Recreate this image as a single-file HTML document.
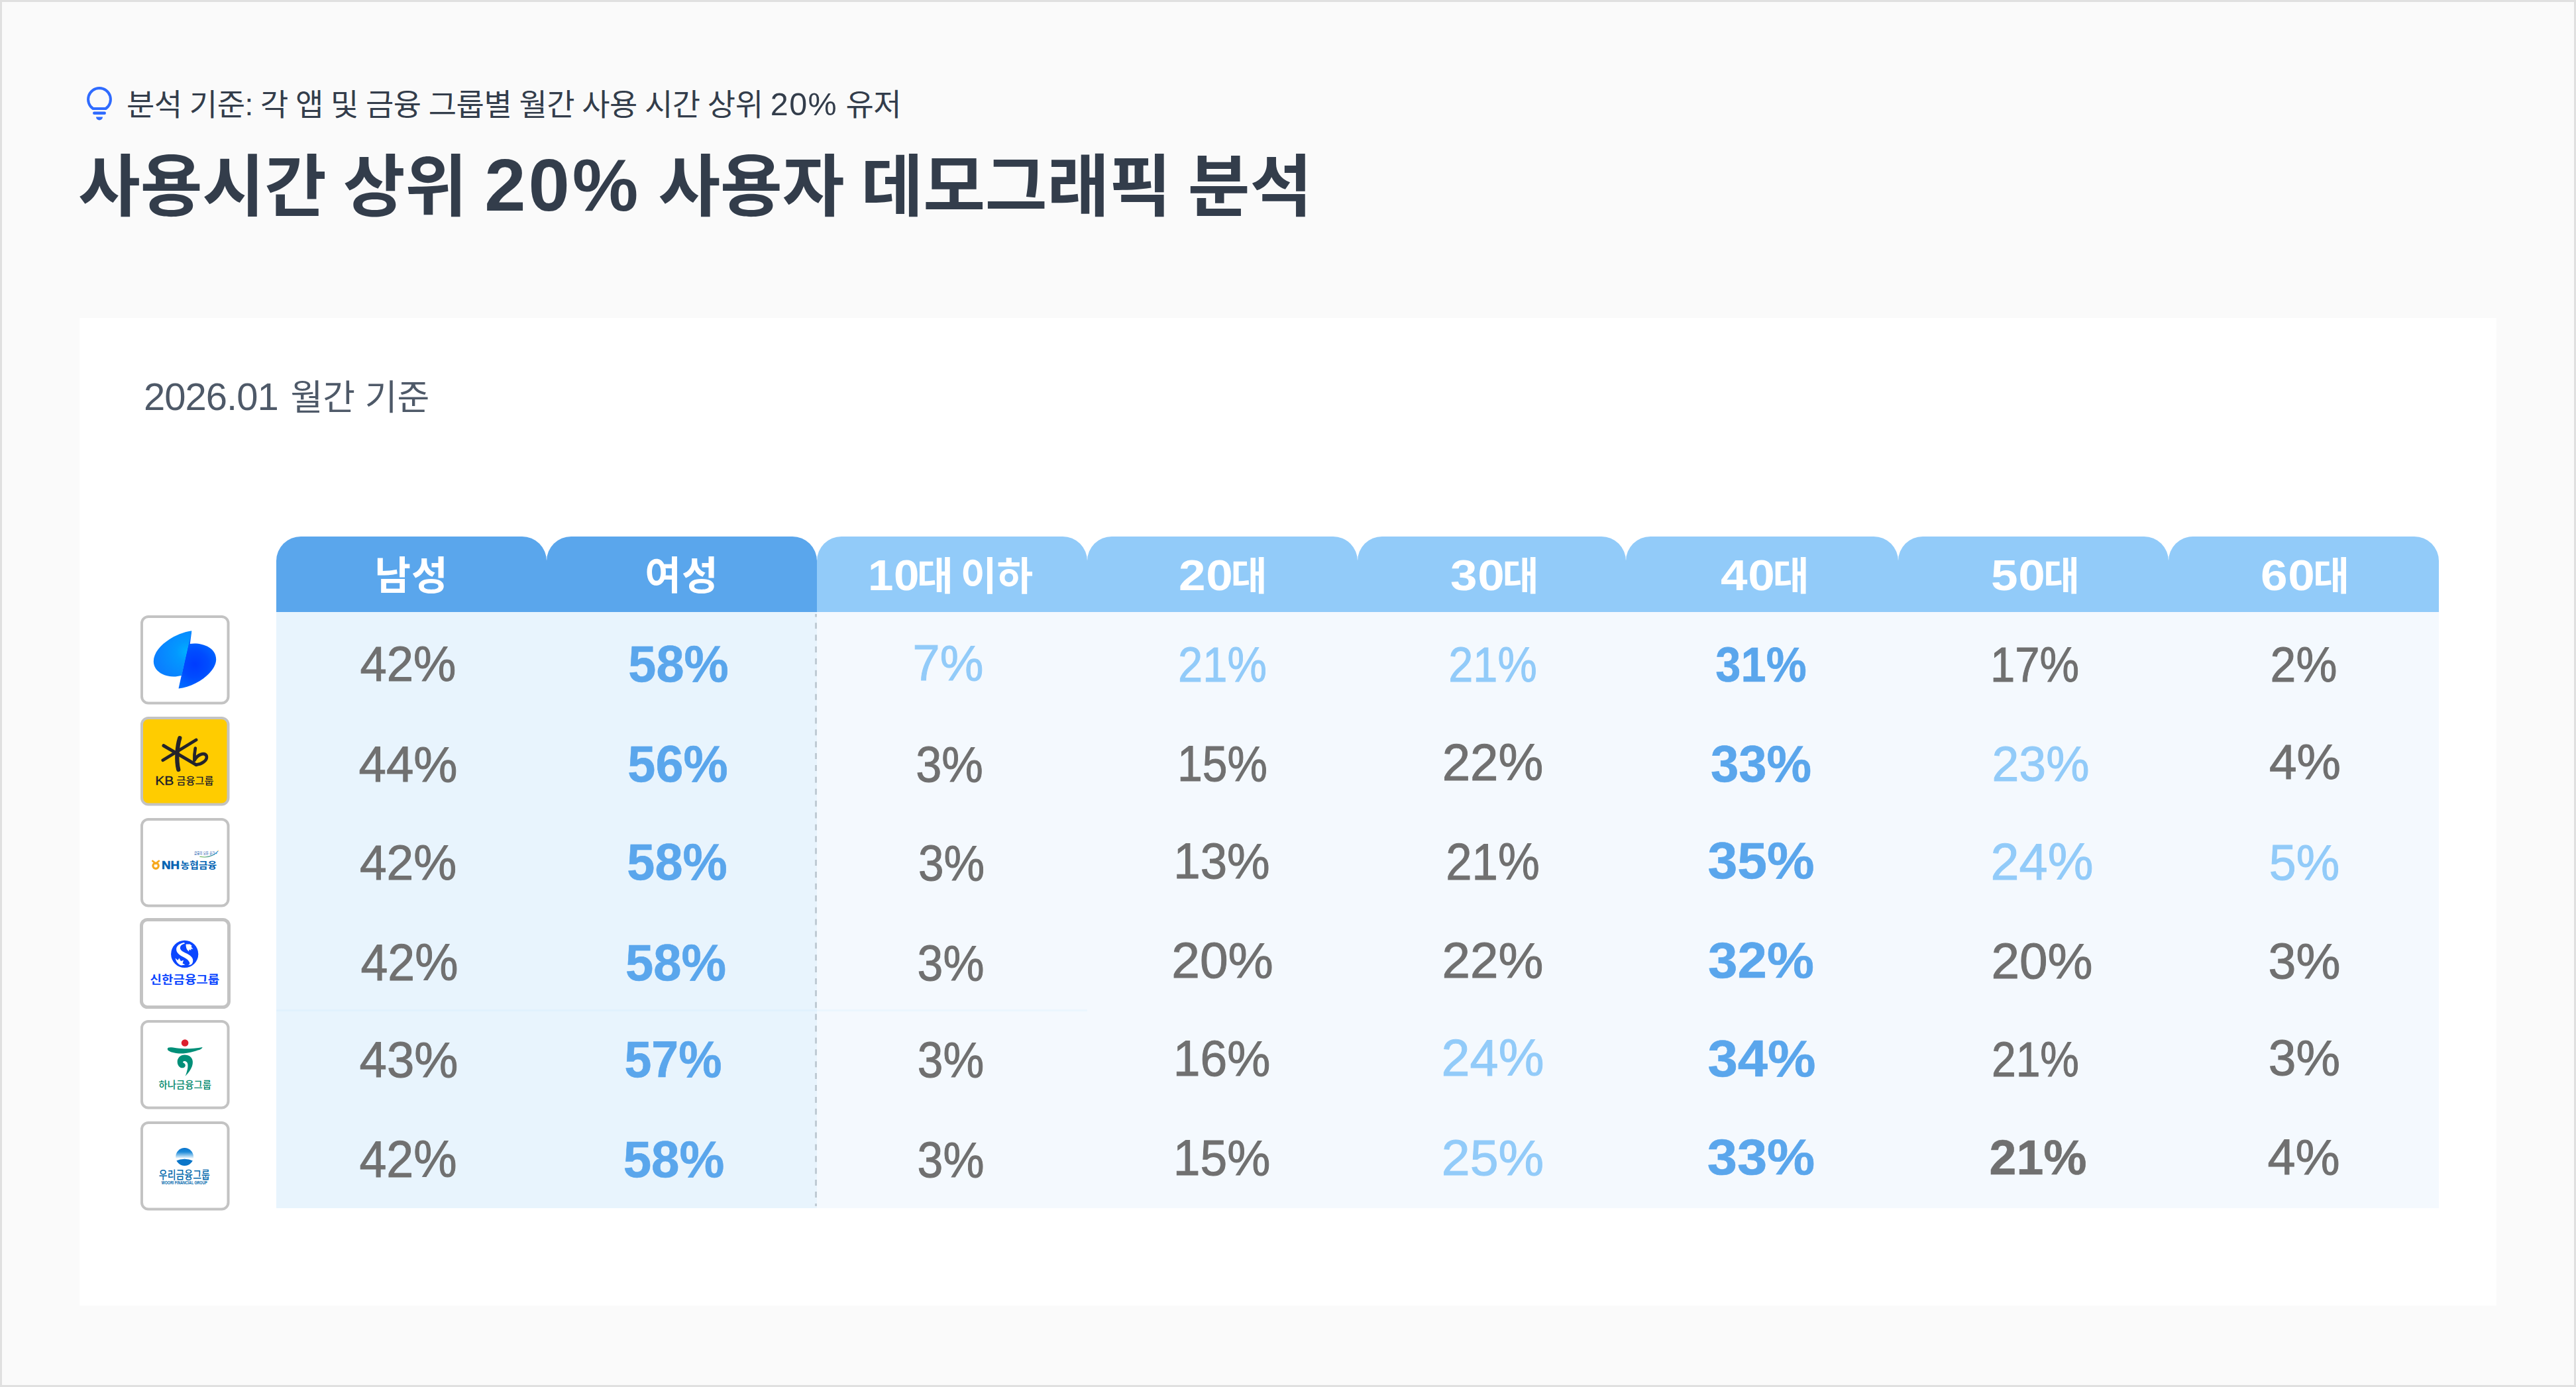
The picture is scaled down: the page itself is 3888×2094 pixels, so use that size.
<!DOCTYPE html>
<html lang="ko"><head><meta charset="utf-8"><title>사용시간 상위 20% 사용자 데모그래픽 분석</title>
<style>
html,body{margin:0;padding:0}
body{width:3888px;height:2094px;position:relative;overflow:hidden;background:#fafafa;font-family:"Liberation Sans","Noto Sans CJK KR",sans-serif}
.frame{position:absolute;left:0;top:0;width:3888px;height:2094px;box-sizing:border-box;border:3px solid #e0e0e0}
.abs{position:absolute;white-space:nowrap}
.sub{left:191px;top:124px;font-size:46px;line-height:66px;color:#333d4b;letter-spacing:-0.5px;word-spacing:-1.1px}
.sub b{font-weight:400;font-size:48.5px;letter-spacing:1.5px;margin-right:1px}
.title{left:118px;top:205px;font-size:102px;line-height:150px;font-weight:700;color:#333d4b;letter-spacing:-0.2px;word-spacing:-3px}
.title b{font-size:112px;letter-spacing:4px;margin:0 1px 0 1px}
.card{position:absolute;left:120px;top:480px;width:3648px;height:1491px;background:#fff}
.date{left:217px;top:560.5px;font-size:53px;line-height:76px;color:#4e5968}
.date b{font-weight:400;font-size:58px;letter-spacing:-1.0px;margin-right:4px}
.band{position:absolute;top:846px;height:78px}
.tab{position:absolute;top:810px;width:408px;height:114px;border-radius:37px 37px 0 0;color:#fff;font-weight:700;font-size:59.5px;letter-spacing:1px;line-height:114px;text-align:center;white-space:nowrap}
.tab b{font-size:64px;letter-spacing:0.5px;display:inline-block;transform:scaleX(1.14);transform-origin:0 50%;margin-right:7px}
.tab.age{letter-spacing:0;word-spacing:-5.5px}
.tab b.one{transform:scaleX(1.08);margin-right:2px}
.tab.age span{top:2px}
.tab span{position:relative;top:3px}
.body1{position:absolute;left:417px;top:924px;width:816px;height:900px;background:#e8f4fd}
.body2{position:absolute;left:1233px;top:924px;width:2448px;height:900px;background:#f4f9fe}
.dash{position:absolute;left:1230px;top:926px;overflow:visible}
.seam{position:absolute;left:417px;top:1524px;width:1224px;height:3px;background:rgba(190,228,255,.15)}
.c{position:absolute;width:400px;text-align:center;white-space:nowrap}
.lg{position:absolute;overflow:visible}
</style></head><body>
<div class="frame"></div>
<svg class="abs" style="left:129px;top:129px" width="42" height="54" viewBox="0 0 42 54"><path d="M21 4a17 17 0 0 1 9.6 31H11.4A17 17 0 0 1 21 4z" fill="none" stroke="#2f6bff" stroke-width="4"/><rect x="11" y="39.5" width="20" height="4.6" rx="2.3" fill="#2f6bff"/><path d="M16 47.5h10a5 5 0 0 1-10 0z" fill="#2f6bff"/></svg>
<div class="abs sub">분석 기준: 각 앱 및 금융 그룹별 월간 사용 시간 상위 <b>20%</b> 유저</div>
<div class="abs title">사용시간 상위 <b>20%</b> 사용자 데모그래픽 분석</div>
<div class="card"></div>
<div class="abs date"><b>2026.01</b> 월간 기준</div>
<div class="band" style="left:417px;width:816px;background:#5aa6ec"></div>
<div class="band" style="left:1233px;width:2448px;background:#92cbf9"></div>
<div class="tab" style="left:417px;width:408px;background:#5aa6ec"><span style="left:0px">남성</span></div><div class="tab" style="left:825px;width:408px;background:#5aa6ec"><span style="left:0px">여성</span></div><div class="tab age" style="left:1233px;width:408px;background:#92cbf9"><span style="left:-2.5px"><b class="one">10</b>대 이하</span></div><div class="tab age" style="left:1641px;width:408px;background:#92cbf9"><span style="left:0.5px"><b>20</b>대</span></div><div class="tab age" style="left:2049px;width:405px;background:#92cbf9"><span style="left:4px"><b>30</b>대</span></div><div class="tab age" style="left:2454px;width:411px;background:#92cbf9"><span style="left:4px"><b>40</b>대</span></div><div class="tab age" style="left:2865px;width:408px;background:#92cbf9"><span style="left:3px"><b>50</b>대</span></div><div class="tab age" style="left:3273px;width:408px;background:#92cbf9"><span style="left:2px"><b>60</b>대</span></div>
<div class="body1"></div><div class="body2"></div>
<div class="seam"></div>
<svg class="dash" width="3" height="896" viewBox="0 0 3 896"><line x1="1.5" y1="0.9" x2="1.5" y2="895" stroke="#bfcbd4" stroke-width="3" stroke-dasharray="9 8.89" stroke-dashoffset="4.5"/></svg>
<div class="c" id="c0_0" style="left:415.8px;top:965.0px;font-size:75.0px;line-height:75.0px;transform:scaleX(0.9649);color:#707070;font-weight:400;-webkit-text-stroke:1.0px #707070">42%</div><div class="c" id="c0_1" style="left:823.5px;top:963.7px;font-size:77.8px;line-height:77.8px;transform:scaleX(0.9716);color:#5aa6ec;font-weight:700;-webkit-text-stroke:0.6px #5aa6ec">58%</div><div class="c" id="c0_2" style="left:1230.5px;top:963.0px;font-size:75.7px;line-height:75.7px;transform:scaleX(0.9759);color:#92cbf9;font-weight:400;-webkit-text-stroke:1.0px #92cbf9">7%</div><div class="c" id="c0_3" style="left:1645.2px;top:966.0px;font-size:75.0px;line-height:75.0px;transform:scaleX(0.8913);color:#92cbf9;font-weight:400;-webkit-text-stroke:1.0px #92cbf9">21%</div><div class="c" id="c0_4" style="left:2053.4px;top:966.1px;font-size:74.9px;line-height:74.9px;transform:scaleX(0.8906);color:#92cbf9;font-weight:400;-webkit-text-stroke:1.0px #92cbf9">21%</div><div class="c" id="c0_5" style="left:2458.4px;top:966.1px;font-size:74.9px;line-height:74.9px;transform:scaleX(0.9163);color:#5aa6ec;font-weight:700;-webkit-text-stroke:0.6px #5aa6ec">31%</div><div class="c" id="c0_6" style="left:2871.0px;top:966.1px;font-size:74.9px;line-height:74.9px;transform:scaleX(0.8941);color:#707070;font-weight:400;-webkit-text-stroke:1.0px #707070">17%</div><div class="c" id="c0_7" style="left:3277.1px;top:966.1px;font-size:74.9px;line-height:74.9px;transform:scaleX(0.9309);color:#707070;font-weight:400;-webkit-text-stroke:1.0px #707070">2%</div><div class="c" id="c1_0" style="left:416.0px;top:1115.5px;font-size:75.7px;line-height:75.7px;transform:scaleX(0.9837);color:#707070;font-weight:400;-webkit-text-stroke:1.0px #707070">44%</div><div class="c" id="c1_1" style="left:823.0px;top:1114.8px;font-size:77.1px;line-height:77.1px;transform:scaleX(0.9806);color:#5aa6ec;font-weight:700;-webkit-text-stroke:0.6px #5aa6ec">56%</div><div class="c" id="c1_2" style="left:1232.8px;top:1116.2px;font-size:76.6px;line-height:76.6px;transform:scaleX(0.9183);color:#707070;font-weight:400;-webkit-text-stroke:1.0px #707070">3%</div><div class="c" id="c1_3" style="left:1644.5px;top:1115.4px;font-size:75.7px;line-height:75.7px;transform:scaleX(0.8979);color:#707070;font-weight:400;-webkit-text-stroke:1.0px #707070">15%</div><div class="c" id="c1_4" style="left:2053.2px;top:1112.6px;font-size:77.2px;line-height:77.2px;transform:scaleX(0.9885);color:#707070;font-weight:400;-webkit-text-stroke:1.0px #707070">22%</div><div class="c" id="c1_5" style="left:2457.9px;top:1114.5px;font-size:77.2px;line-height:77.2px;transform:scaleX(0.9846);color:#5aa6ec;font-weight:700;-webkit-text-stroke:0.6px #5aa6ec">33%</div><div class="c" id="c1_6" style="left:2880.2px;top:1116.4px;font-size:74.9px;line-height:74.9px;transform:scaleX(0.9800);color:#92cbf9;font-weight:400;-webkit-text-stroke:1.0px #92cbf9">23%</div><div class="c" id="c1_7" style="left:3278.8px;top:1112.9px;font-size:74.9px;line-height:74.9px;transform:scaleX(0.9979);color:#707070;font-weight:400;-webkit-text-stroke:1.0px #707070">4%</div><div class="c" id="c2_0" style="left:415.8px;top:1266.1px;font-size:74.3px;line-height:74.3px;transform:scaleX(0.9833);color:#707070;font-weight:400;-webkit-text-stroke:1.0px #707070">42%</div><div class="c" id="c2_1" style="left:821.5px;top:1263.2px;font-size:77.8px;line-height:77.8px;transform:scaleX(0.9719);color:#5aa6ec;font-weight:700;-webkit-text-stroke:0.6px #5aa6ec">58%</div><div class="c" id="c2_2" style="left:1235.5px;top:1265.2px;font-size:76.6px;line-height:76.6px;transform:scaleX(0.9046);color:#707070;font-weight:400;-webkit-text-stroke:1.0px #707070">3%</div><div class="c" id="c2_3" style="left:1643.5px;top:1262.3px;font-size:76.4px;line-height:76.4px;transform:scaleX(0.9514);color:#707070;font-weight:400;-webkit-text-stroke:1.0px #707070">13%</div><div class="c" id="c2_4" style="left:2053.4px;top:1262.6px;font-size:77.2px;line-height:77.2px;transform:scaleX(0.9163);color:#707070;font-weight:400;-webkit-text-stroke:1.0px #707070">21%</div><div class="c" id="c2_5" style="left:2458.4px;top:1259.9px;font-size:78.0px;line-height:78.0px;transform:scaleX(1.0318);color:#5aa6ec;font-weight:700;-webkit-text-stroke:0.6px #5aa6ec">35%</div><div class="c" id="c2_6" style="left:2881.8px;top:1262.6px;font-size:77.2px;line-height:77.2px;transform:scaleX(1.0023);color:#92cbf9;font-weight:400;-webkit-text-stroke:1.0px #92cbf9">24%</div><div class="c" id="c2_7" style="left:3277.6px;top:1263.7px;font-size:75.9px;line-height:75.9px;transform:scaleX(0.9707);color:#92cbf9;font-weight:400;-webkit-text-stroke:1.0px #92cbf9">5%</div><div class="c" id="c3_0" style="left:417.6px;top:1415.2px;font-size:77.2px;line-height:77.2px;transform:scaleX(0.9516);color:#707070;font-weight:400;-webkit-text-stroke:1.0px #707070">42%</div><div class="c" id="c3_1" style="left:819.8px;top:1415.2px;font-size:77.2px;line-height:77.2px;transform:scaleX(0.9846);color:#5aa6ec;font-weight:700;-webkit-text-stroke:0.6px #5aa6ec">58%</div><div class="c" id="c3_2" style="left:1235.0px;top:1416.3px;font-size:75.9px;line-height:75.9px;transform:scaleX(0.9188);color:#707070;font-weight:400;-webkit-text-stroke:1.0px #707070">3%</div><div class="c" id="c3_3" style="left:1645.4px;top:1411.8px;font-size:76.3px;line-height:76.3px;transform:scaleX(1.0057);color:#707070;font-weight:400;-webkit-text-stroke:1.0px #707070">20%</div><div class="c" id="c3_4" style="left:2052.6px;top:1411.8px;font-size:76.2px;line-height:76.2px;transform:scaleX(1.0024);color:#707070;font-weight:400;-webkit-text-stroke:1.0px #707070">22%</div><div class="c" id="c3_5" style="left:2457.9px;top:1411.8px;font-size:76.2px;line-height:76.2px;transform:scaleX(1.0483);color:#5aa6ec;font-weight:700;-webkit-text-stroke:0.6px #5aa6ec">32%</div><div class="c" id="c3_6" style="left:2881.5px;top:1412.8px;font-size:75.8px;line-height:75.8px;transform:scaleX(1.0084);color:#707070;font-weight:400;-webkit-text-stroke:1.0px #707070">20%</div><div class="c" id="c3_7" style="left:3278.0px;top:1412.9px;font-size:75.7px;line-height:75.7px;transform:scaleX(0.9952);color:#707070;font-weight:400;-webkit-text-stroke:1.0px #707070">3%</div><div class="c" id="c4_0" style="left:416.5px;top:1561.8px;font-size:76.3px;line-height:76.3px;transform:scaleX(0.9749);color:#707070;font-weight:400;-webkit-text-stroke:1.0px #707070">43%</div><div class="c" id="c4_1" style="left:815.9px;top:1560.6px;font-size:77.7px;line-height:77.7px;transform:scaleX(0.9452);color:#5aa6ec;font-weight:700;-webkit-text-stroke:0.6px #5aa6ec">57%</div><div class="c" id="c4_2" style="left:1235.0px;top:1561.8px;font-size:76.3px;line-height:76.3px;transform:scaleX(0.9100);color:#707070;font-weight:400;-webkit-text-stroke:1.0px #707070">3%</div><div class="c" id="c4_3" style="left:1644.0px;top:1559.6px;font-size:75.9px;line-height:75.9px;transform:scaleX(0.9652);color:#707070;font-weight:400;-webkit-text-stroke:1.0px #707070">16%</div><div class="c" id="c4_4" style="left:2052.7px;top:1558.5px;font-size:77.2px;line-height:77.2px;transform:scaleX(1.0023);color:#92cbf9;font-weight:400;-webkit-text-stroke:1.0px #92cbf9">24%</div><div class="c" id="c4_5" style="left:2458.6px;top:1558.5px;font-size:78.0px;line-height:78.0px;transform:scaleX(1.0447);color:#5aa6ec;font-weight:700;-webkit-text-stroke:0.6px #5aa6ec">34%</div><div class="c" id="c4_6" style="left:2872.2px;top:1562.0px;font-size:75.0px;line-height:75.0px;transform:scaleX(0.8800);color:#707070;font-weight:400;-webkit-text-stroke:1.0px #707070">21%</div><div class="c" id="c4_7" style="left:3277.5px;top:1558.8px;font-size:76.4px;line-height:76.4px;transform:scaleX(0.9807);color:#707070;font-weight:400;-webkit-text-stroke:1.0px #707070">3%</div><div class="c" id="c5_0" style="left:416.0px;top:1712.1px;font-size:77.2px;line-height:77.2px;transform:scaleX(0.9520);color:#707070;font-weight:400;-webkit-text-stroke:1.0px #707070">42%</div><div class="c" id="c5_1" style="left:817.0px;top:1712.1px;font-size:77.2px;line-height:77.2px;transform:scaleX(0.9884);color:#5aa6ec;font-weight:700;-webkit-text-stroke:0.6px #5aa6ec">58%</div><div class="c" id="c5_2" style="left:1235.0px;top:1713.1px;font-size:75.9px;line-height:75.9px;transform:scaleX(0.9188);color:#707070;font-weight:400;-webkit-text-stroke:1.0px #707070">3%</div><div class="c" id="c5_3" style="left:1644.0px;top:1709.6px;font-size:75.9px;line-height:75.9px;transform:scaleX(0.9652);color:#707070;font-weight:400;-webkit-text-stroke:1.0px #707070">15%</div><div class="c" id="c5_4" style="left:2052.7px;top:1709.6px;font-size:75.9px;line-height:75.9px;transform:scaleX(1.0169);color:#92cbf9;font-weight:400;-webkit-text-stroke:1.0px #92cbf9">25%</div><div class="c" id="c5_5" style="left:2457.8px;top:1708.7px;font-size:76.2px;line-height:76.2px;transform:scaleX(1.0658);color:#5aa6ec;font-weight:700;-webkit-text-stroke:0.6px #5aa6ec">33%</div><div class="c" id="c5_6" style="left:2875.5px;top:1710.0px;font-size:75.0px;line-height:75.0px;transform:scaleX(0.9778);color:#707070;font-weight:700;-webkit-text-stroke:0.6px #707070">21%</div><div class="c" id="c5_7" style="left:3277.2px;top:1708.9px;font-size:76.3px;line-height:76.3px;transform:scaleX(0.9890);color:#707070;font-weight:400;-webkit-text-stroke:1.0px #707070">4%</div>
<svg class="lg" style="left:212px;top:928.5px" width="134.5" height="134.5" viewBox="0 0 134.5 134.5">
<defs>
<radialGradient id="tl" gradientUnits="userSpaceOnUse" cx="70" cy="55" r="46"><stop offset="0" stop-color="#00b0ff"/><stop offset="0.35" stop-color="#0398ff"/><stop offset="1" stop-color="#0a80ff"/></radialGradient>
<radialGradient id="tr" gradientUnits="userSpaceOnUse" cx="82" cy="74" r="40"><stop offset="0" stop-color="#003cff"/><stop offset="0.5" stop-color="#004cff"/><stop offset="1" stop-color="#006cff"/></radialGradient>
</defs>
<rect x="2" y="2" width="130.5" height="130.5" rx="10" fill="#fff" stroke="#c3c3c3" stroke-width="4"/>
<path d="M57.5 110.6 L76.6 23.4 L77.3 24 L74.8 43 C90 40.5 114.2 47 114.2 66.5 C114.2 86 84 107.5 57.5 110.6Z" fill="url(#tr)"/>
<path d="M76.4 23.4 C52 27 19.8 47 19.8 69.5 C19.8 84.5 36 93.6 53 92.4 Q57.5 92 61.6 91 L62.2 91 L77.2 23.6Z" fill="url(#tl)"/>
</svg>
<svg class="lg" style="left:212px;top:1081.5px" width="134.5" height="134.5" viewBox="0 0 134.5 134.5">
<rect x="2" y="2" width="130.5" height="130.5" rx="10" fill="#ffcc00" stroke="#c3c3c3" stroke-width="4"/>
<g fill="none" stroke="#23232b" stroke-linecap="round" stroke-linejoin="round">
<path d="M59.3 32.2 C55.2 45 53.8 66 57.3 80" stroke-width="6.3"/>
<path d="M35 43.8 L84 72.6" stroke-width="5.1"/>
<path d="M33.8 65.8 L84.1 35" stroke-width="4.7"/>
<path d="M82.8 47.6 C81.6 54 81 60 81.4 66 C86 57 96.5 53.4 99.6 59 C102 66 92 72 84 72.6" stroke-width="4.7"/>
</g>
<text x="22.2" y="103.3" font-family="Liberation Sans, Noto Sans CJK KR, sans-serif" font-size="19.2" fill="#1b1b2a" stroke="#1b1b2a" stroke-width="0.35" textLength="28.2" lengthAdjust="spacingAndGlyphs">KB</text>
<text x="54.4" y="101.6" font-family="Liberation Sans, Noto Sans CJK KR, sans-serif" font-weight="500" font-size="15" fill="#1b1b2a" textLength="56" lengthAdjust="spacingAndGlyphs">금융그룹</text>
</svg>
<svg class="lg" style="left:212px;top:1234.5px" width="134.5" height="134.5" viewBox="0 0 134.5 134.5">
<defs><linearGradient id="nsw" x1="0" y1="0" x2="1" y2="0"><stop offset="0" stop-color="#5fb33a"/><stop offset="1" stop-color="#1c7fd0"/></linearGradient></defs>
<rect x="2" y="2" width="130.5" height="130.5" rx="10" fill="#fff" stroke="#c3c3c3" stroke-width="4"/>
<circle cx="23.1" cy="72.1" r="4.2" fill="none" stroke="#f6a81c" stroke-width="3.2"/>
<path d="M18.2 64.8 Q20.8 66 22.2 69 M28 64.8 Q25.4 66 24 69" fill="none" stroke="#f6a81c" stroke-width="2.6" stroke-linecap="round"/>
<text x="32" y="76.5" font-family="Liberation Sans, Noto Sans CJK KR, sans-serif" font-weight="700" font-size="15.8" fill="#0061b2" stroke="#0061b2" stroke-width="0.5" textLength="27" lengthAdjust="spacingAndGlyphs">NH</text>
<text x="60.6" y="75.8" font-family="Liberation Sans, Noto Sans CJK KR, sans-serif" font-weight="700" font-size="13.6" fill="#0061b2" textLength="54.6" lengthAdjust="spacingAndGlyphs">농협금융</text>
<text x="81" y="55.2" font-family="Liberation Sans, Noto Sans CJK KR, sans-serif" font-size="5.8" fill="#2a62b0" textLength="31.4" lengthAdjust="spacingAndGlyphs">금융의 모든 순간</text>
<path d="M89.8 58.2 Q106 61.5 116.8 50.4" fill="none" stroke="url(#nsw)" stroke-width="1.1" stroke-linecap="round"/>
<circle cx="114.8" cy="53.6" r="0.8" fill="#18a0e0"/><circle cx="117.2" cy="49.2" r="0.6" fill="#f6a81c"/>
</svg>
<svg class="lg" style="left:211px;top:1386px" width="137" height="137" viewBox="0 0 137 137">
<rect x="2.5" y="2.5" width="132" height="132" rx="9" fill="#fff" stroke="#c3c3c3" stroke-width="5"/>
<circle cx="67.7" cy="54.4" r="20.6" fill="#0b46ff"/>
<path d="M67 37 C61 38 55.2 41.5 55.1 47 C55 53 61 56.5 66 59 C71 61.5 74.5 64.5 75.2 67.8 C75.5 69.3 74.6 70.6 73 71.2 L77 70.6 C79.6 69 80.7 66 80.1 62.5 C79.2 57.5 73 54.5 66.6 51.4 C62.6 49.4 60.6 47.5 60.9 44.5 C61.2 41.5 63.6 39.4 68 38.4Z" fill="#fff"/>
<path d="M69.6 39.4 L75.8 39.4 L78.8 42 L77.4 43.2 L80.4 46.8 L77.2 46.4 L77.4 48.8 L74.6 47.6 L74 50.6 L71.4 47.8 C70 45.2 69.4 42.2 69.6 39.4Z" fill="#fff"/>
<path d="M53.6 60.4 L57.4 63.8 L59.4 60.4 L62 65 L66 63.8 L64.6 68.4 L68.6 70.4 L62.4 71.4 C57.4 69.4 54.6 65.4 53.6 60.4Z" fill="#fff"/>
<text x="15.6" y="98.6" font-family="Liberation Sans, Noto Sans CJK KR, sans-serif" font-weight="700" font-size="17.2" fill="#0b46ff" textLength="104.6" lengthAdjust="spacingAndGlyphs">신한금융그룹</text>
</svg>
<svg class="lg" style="left:212px;top:1540.2px" width="134.5" height="134.5" viewBox="0 0 134.5 134.5">
<rect x="2" y="2" width="130.5" height="130.5" rx="10" fill="#fff" stroke="#c3c3c3" stroke-width="4"/>
<circle cx="67.1" cy="34.5" r="5.3" fill="#dc1f2e"/>
<path d="M40.8 43.6 C40.8 41.2 44 40.8 49.3 41.6 C56 42.8 62 43.4 66.8 43.3 C76 43.2 86 42.6 93.7 40.9 C92.6 43.4 90 44.6 86.6 45.6 C83 46.8 79.6 47.9 75.6 48.8 C72 49.7 68.4 50.3 64.7 50.4 C61 50.5 57.4 50.5 53.7 49.9 C50.6 49.4 47.6 48.8 44.9 47.7 C42.4 46.7 40.8 45.6 40.8 43.6Z" fill="#008f78"/>
<path d="M67.7 84.8 C72 80 79.4 72 78.9 63 C78.5 56.4 73.4 52.6 66.8 52.6 C60.2 52.6 55.7 57.4 55.7 63 C55.7 69 60 73.2 64.6 72.2 C67.7 71.5 68.5 68.6 67.2 66.6 C66.2 65 64.2 64.6 63.9 63.6 C64.6 61.5 68.1 61.2 70 63.6 C73 67.2 71.2 76 67.7 84.8Z" fill="#008f78"/>
<text x="27.4" y="103.4" font-family="Liberation Sans, Noto Sans CJK KR, sans-serif" font-weight="500" font-size="14.6" fill="#00876c" textLength="79.6" lengthAdjust="spacingAndGlyphs">하나금융그룹</text>
</svg>
<svg class="lg" style="left:212px;top:1693.2px" width="134.5" height="134.5" viewBox="0 0 134.5 134.5">
<defs>
<linearGradient id="wg" x1="0" y1="0" x2="0" y2="1"><stop offset="0" stop-color="#0873cc"/><stop offset="0.28" stop-color="#1d8ad8"/><stop offset="0.62" stop-color="#bfe0f6"/><stop offset="0.74" stop-color="#ffffff"/></linearGradient>
<clipPath id="wc"><circle cx="66.6" cy="53.5" r="13.4"/></clipPath>
</defs>
<rect x="2" y="2" width="130.5" height="130.5" rx="10" fill="#fff" stroke="#c3c3c3" stroke-width="4"/>
<g clip-path="url(#wc)"><rect x="53" y="40" width="28" height="22" fill="url(#wg)"/><path d="M52 60.2 Q66.6 53.4 81.2 60.2 L81.2 68 L52 68Z" fill="#0b76c9"/></g>
<text x="27.8" y="87.4" font-family="Liberation Sans, Noto Sans CJK KR, sans-serif" font-weight="500" font-size="17" fill="#0067ac" textLength="77" lengthAdjust="spacingAndGlyphs">우리금융그룹</text>
<text x="31.8" y="94.5" font-family="Liberation Sans, Noto Sans CJK KR, sans-serif" font-weight="700" font-size="6.3" fill="#0067ac" textLength="69" lengthAdjust="spacingAndGlyphs">WOORI FINANCIAL GROUP</text>
</svg>

</body></html>
